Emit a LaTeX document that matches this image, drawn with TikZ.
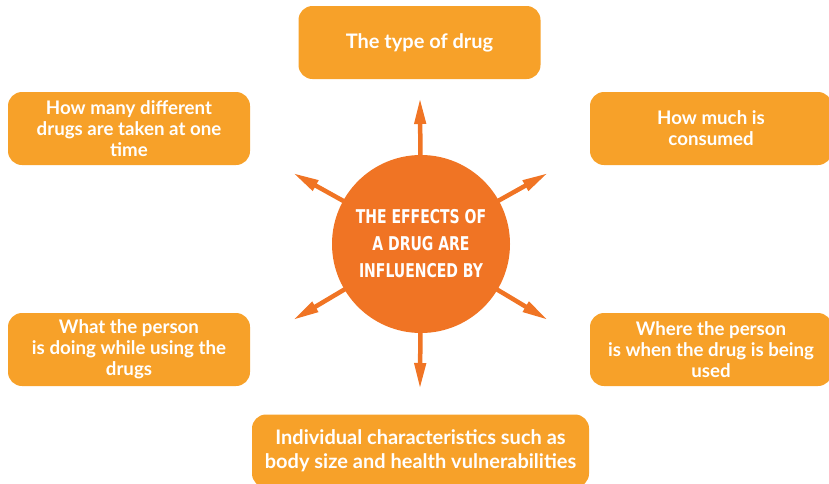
\documentclass[tikz,border=0pt]{standalone}
\usepackage{fontspec}
\setmainfont{Lato}
\newfontfamily\hubfont[FakeStretch=0.82]{DejaVu Sans Condensed Bold}
\usetikzlibrary{arrows.meta}
\definecolor{hubcol}{HTML}{F07424}
\definecolor{boxcol}{HTML}{F7A129}

\begin{document}
\begin{tikzpicture}[x=1pt, y=-1pt,
  box/.style = {fill = boxcol, rounded corners = 14pt, minimum width = 242pt,
                minimum height = 73pt, align = center, text = white,
                font = \fontsize{18.7}{21}\selectfont\bfseries},
  bigbox/.style = {box, font = \fontsize{20}{24}\selectfont\bfseries},
  hub/.style = {circle, fill = hubcol, minimum size = 178pt, align = center,
                text = white, font = \fontsize{19}{27}\selectfont\hubfont},
  spoke/.style = {draw = hubcol, line width = 4.5pt,
                  -{Triangle[length = 26pt, width = 11pt]}}]
  \useasboundingbox (0,0) rectangle (829,483);

  \node[bigbox] (type)  at (419.5,42.5)  {The type of drug};
  \node[box] (many)     at (129,128.5)   {How many different\\drugs are taken at one\\time};
  \node[box] (much)     at (711,128.5)   {How much is\\consumed};
  \node[box] (doing)    at (129,349.5)   {What the person\\is doing while using the\\drugs};
  \node[box] (where)    at (711,349.5)   {Where the person\\is when the drug is being\\used};
  \node[bigbox, minimum width = 337pt] (indiv) at (420.5,451)
        {Individual characteristics such as\\body size and health vulnerabilities};

  % arrow tips
  \coordinate (tN)  at (420,98);
  \coordinate (tS)  at (420,389);
  \coordinate (tNW) at (293,173);
  \coordinate (tNE) at (548,173);
  \coordinate (tSW) at (293,320);
  \coordinate (tSE) at (548,320);

  \node (c) at (421,244) {};
  \foreach \t in {tN, tS, tNW, tNE, tSW, tSE}
    \draw[spoke] (c) -- (\t);

  \node[hub] (hub) at (421,244) {THE EFFECTS OF\\A DRUG ARE\\INFLUENCED BY};
\end{tikzpicture}
\end{document}
